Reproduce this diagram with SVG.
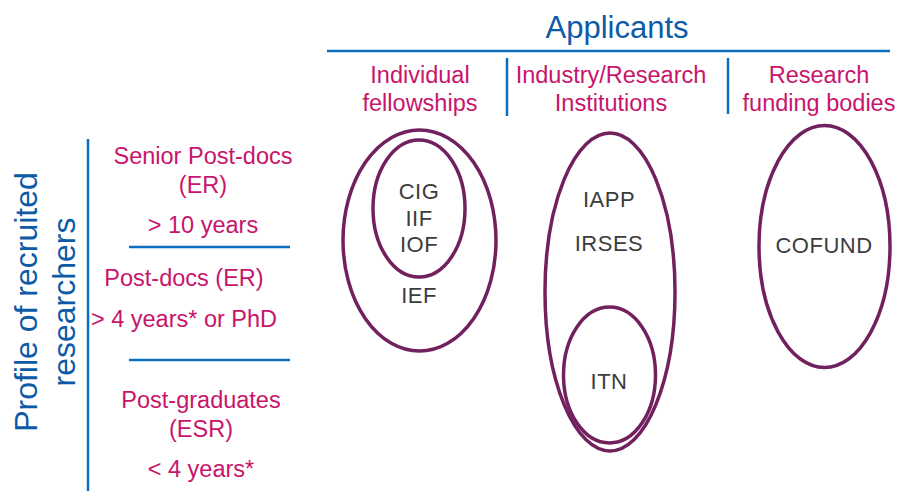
<svg xmlns="http://www.w3.org/2000/svg" width="901" height="491" viewBox="0 0 901 491">
<style>
.bl{stroke:#0b6dbe;stroke-width:2.5;fill:none}
.ell{fill:none;stroke:#72215f;stroke-width:3.5}
.hd{font-family:"Liberation Sans",Arial,sans-serif;fill:#0d5aa7;text-anchor:middle}
.pk{font-family:"Liberation Sans",Arial,sans-serif;font-size:23.5px;fill:#c8146a;text-anchor:middle}
.gr{font-family:"Liberation Sans",Arial,sans-serif;font-size:22px;letter-spacing:0.5px;fill:#3c3c3c;text-anchor:middle}
</style>
<rect width="901" height="491" fill="#ffffff"/>
<g id="header">
<text class="hd" x="617" y="38" font-size="31">Applicants</text>
<line class="bl" x1="327" y1="51" x2="890" y2="51"/>
<line class="bl" x1="507" y1="58" x2="507" y2="116"/>
<line class="bl" x1="728" y1="58" x2="728" y2="114"/>
<text class="pk" x="420" y="83">Individual</text>
<text class="pk" x="420" y="111">fellowships</text>
<text class="pk" x="611" y="83">Industry/Research</text>
<text class="pk" x="611" y="111">Institutions</text>
<text class="pk" x="819" y="83">Research</text>
<text class="pk" x="819" y="111">funding bodies</text>
</g>
<g id="profile">
<text class="hd" font-size="32" transform="translate(37,302) rotate(-90)">Profile of recruited</text>
<text class="hd" font-size="32" transform="translate(75,302) rotate(-90)">researchers</text>
<line class="bl" x1="88" y1="139" x2="88" y2="491"/>
<text class="pk" x="203" y="164">Senior Post-docs</text>
<text class="pk" x="203" y="193">(ER)</text>
<text class="pk" x="203" y="233">&gt; 10 years</text>
<line class="bl" x1="129" y1="247" x2="290" y2="247"/>
<text class="pk" x="184" y="286">Post-docs (ER)</text>
<text class="pk" x="184" y="327">&gt; 4 years* or PhD</text>
<line class="bl" x1="129" y1="360" x2="290" y2="360"/>
<text class="pk" x="201" y="408">Post-graduates</text>
<text class="pk" x="201" y="437">(ESR)</text>
<text class="pk" x="201" y="477">&lt; 4 years*</text>
</g>
<g id="individual">
<ellipse class="ell" cx="419.5" cy="240.5" rx="76.5" ry="110.5"/>
<ellipse class="ell" cx="419" cy="208.5" rx="46" ry="68.5"/>
<text class="gr" x="419" y="199">CIG</text>
<text class="gr" x="419" y="226">IIF</text>
<text class="gr" x="419" y="252">IOF</text>
<text class="gr" x="419" y="303">IEF</text>
</g>
<g id="industry">
<ellipse class="ell" cx="610" cy="292" rx="65" ry="159"/>
<ellipse class="ell" cx="609.5" cy="375" rx="46" ry="68"/>
<text class="gr" x="609" y="207">IAPP</text>
<text class="gr" x="609" y="251">IRSES</text>
<text class="gr" x="609" y="389">ITN</text>
</g>
<g id="funding">
<ellipse class="ell" cx="824.5" cy="246.5" rx="65.5" ry="121"/>
<text class="gr" x="824" y="253">COFUND</text>
</g>
</svg>
